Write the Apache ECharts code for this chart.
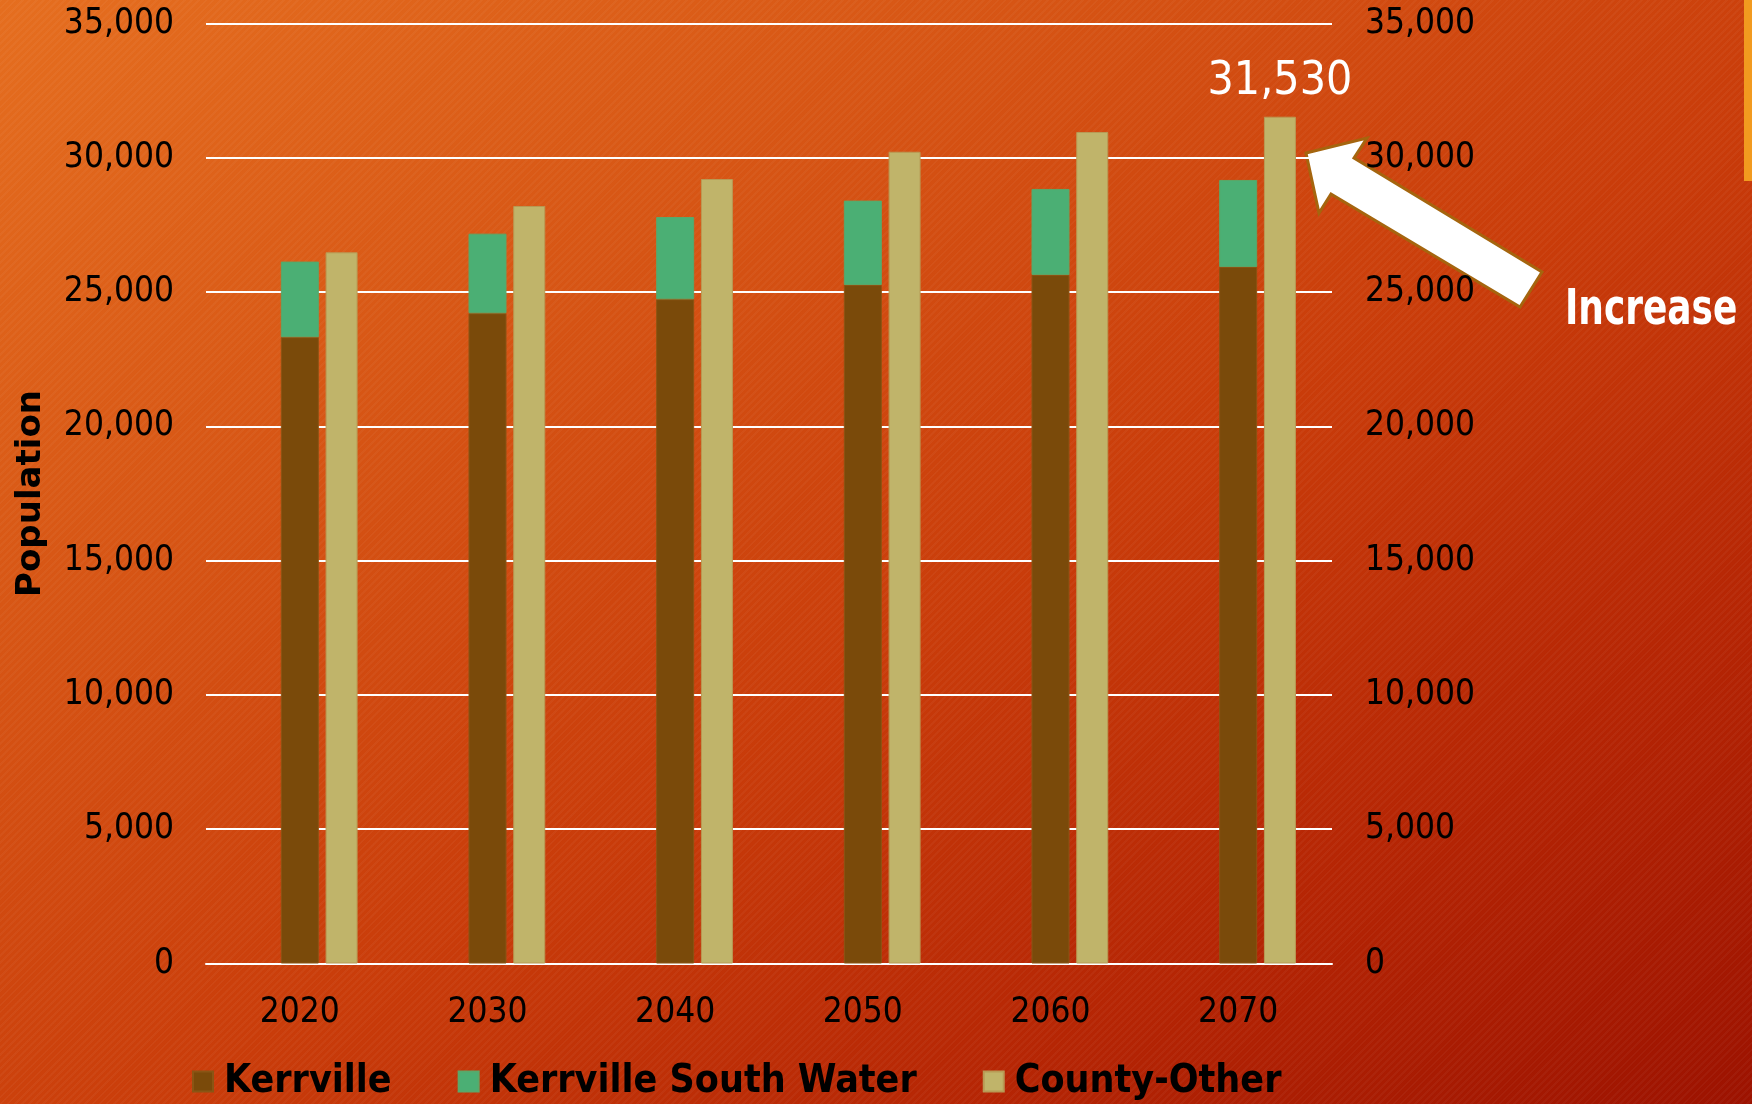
<!DOCTYPE html>
<html>
<head>
<meta charset="utf-8">
<script src="https://cdn.jsdelivr.net/npm/echarts@6/dist/echarts.min.js"></script>
<style>
  html, body { margin: 0; padding: 0; width: 1752px; height: 1104px; overflow: hidden; }
  body {
    background:
      repeating-linear-gradient(135deg, rgba(255,255,255,0.035) 0px, rgba(255,255,255,0.035) 2px, rgba(0,0,0,0) 2px, rgba(0,0,0,0) 5px),
      linear-gradient(to bottom right, #E56E1F 0%, #D65414 30%, #C93C0A 55%, #B52504 78%, #9C1200 100%);
  }
  #chart { width: 1752px; height: 1104px; }
</style>
</head>
<body>
<div id="chart"></div>
<script>
// ---- data ----
const years = ['2020', '2030', '2040', '2050', '2060', '2070'];
const kerrville = [23320, 24210, 24730, 25265, 25640, 25935];
const kerrvilleSouthWater = [2815, 2965, 3065, 3140, 3200, 3240];
const countyOther = [26480, 28205, 29210, 30225, 30960, 31530];
const seriesNames = ['Kerrville', 'Kerrville South Water', 'County-Other'];
const yTicks = { min: 0, max: 35000, interval: 5000 };

const fmt = v => Number(v).toLocaleString('en-US');
const axisFont = 'DejaVu Sans Condensed, DejaVu Sans, sans-serif';
const lastIdx = countyOther.length - 1;

const chart = echarts.init(document.getElementById('chart'), null, { renderer: 'canvas' });

const option = {
  backgroundColor: 'transparent',
  animation: false,
  grid: { left: 206, right: 420, top: 23.5, bottom: 140.5, containLabel: false },
  legend: {
    data: seriesNames,
    left: 192, top: 1062, padding: 0,
    icon: 'rect', itemWidth: 20, itemHeight: 20, itemGap: 66,
    textStyle: { fontFamily: axisFont, fontWeight: 'bold', fontSize: 39, color: '#000', padding: [0, 0, 0, 6] }
  },
  xAxis: [
    {
      type: 'category', data: years, gridIndex: 0,
      axisLine: { show: true, lineStyle: { color: '#ffffff', width: 2 } },
      axisTick: { show: false },
      axisLabel: { color: '#000', fontFamily: axisFont, fontSize: 35, margin: 32 }
    },
    {
      type: 'category', data: years, gridIndex: 0, show: false
    }
  ],
  yAxis: [
    {
      type: 'value', min: yTicks.min, max: yTicks.max, interval: yTicks.interval,
      name: 'Population', nameLocation: 'middle', nameRotate: 90, nameGap: 158,
      nameTextStyle: { fontFamily: 'DejaVu Sans, sans-serif', fontWeight: 'bold', fontSize: 34, color: '#000' },
      axisLine: { show: false }, axisTick: { show: false },
      axisLabel: { color: '#000', fontFamily: axisFont, fontSize: 35, margin: 32, formatter: fmt },
      splitLine: { show: true, lineStyle: { color: '#ffffff', width: 2 } }
    },
    {
      type: 'value', min: yTicks.min, max: yTicks.max, interval: yTicks.interval, position: 'right',
      axisLine: { show: false }, axisTick: { show: false },
      axisLabel: { color: '#000', fontFamily: axisFont, fontSize: 35, margin: 33, formatter: fmt },
      splitLine: { show: false }
    }
  ],
  series: [
    {
      name: seriesNames[0], type: 'bar', stack: 'city', xAxisIndex: 0, yAxisIndex: 0,
      barWidth: 38, data: kerrville,
      itemStyle: { color: '#7A4A0A', borderColor: '#8A5514', borderWidth: 1 }
    },
    {
      name: seriesNames[1], type: 'bar', stack: 'city', xAxisIndex: 0, yAxisIndex: 0,
      barWidth: 38, data: kerrvilleSouthWater,
      itemStyle: { color: '#4BAF74', borderColor: '#5AA86A', borderWidth: 1 }
    },
    {
      name: 'spacer', type: 'bar', xAxisIndex: 1, yAxisIndex: 1,
      barWidth: 32, barGap: '161%', data: [], silent: true
    },
    {
      name: seriesNames[2], type: 'bar', xAxisIndex: 1, yAxisIndex: 1,
      barWidth: 32, barGap: '161%',
      data: countyOther.map((v, i) => i === lastIdx
        ? { value: v, label: { show: true } }
        : v),
      itemStyle: { color: '#C0B46A', borderColor: '#B89A55', borderWidth: 1 },
      label: {
        show: false, position: 'top', distance: 12,
        color: '#ffffff', fontFamily: axisFont, fontSize: 46,
        formatter: p => fmt(p.value)
      }
    }
  ],
  graphic: [
    {
      type: 'rect', left: 1744, top: 0, silent: true,
      shape: { width: 8, height: 181 },
      style: { fill: '#F29A1F' }
    },
    {
      type: 'polygon', silent: true,
      shape: { points: [[1306, 153], [1367, 138], [1354, 158], [1542, 272], [1520, 307], [1331, 194], [1319, 213]] },
      style: { fill: '#ffffff', stroke: '#A5650E', lineWidth: 3 }
    },
    {
      type: 'text', x: 1565, y: 311, silent: true,
      scaleX: 0.815, scaleY: 1,
      style: {
        text: 'Increase', fill: '#ffffff',
        textAlign: 'left', textVerticalAlign: 'middle',
        font: 'bold 49px "DejaVu Sans Condensed", "DejaVu Sans", sans-serif'
      }
    }
  ]
};

chart.setOption(option);
</script>
</body>
</html>
